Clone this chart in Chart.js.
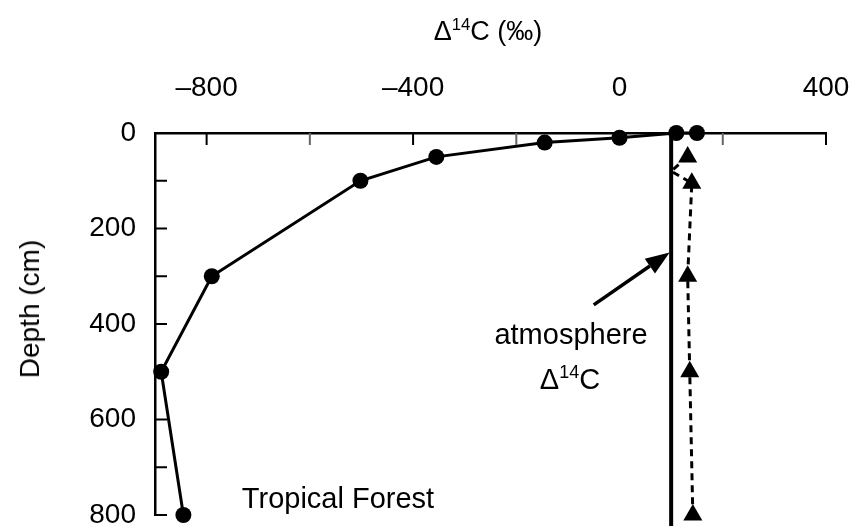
<!DOCTYPE html>
<html>
<head>
<meta charset="utf-8">
<script src="https://cdn.jsdelivr.net/npm/chart.js@4"></script>
<style>
  html, body { margin: 0; padding: 0; background: #fff; }
  #wrap { position: relative; width: 855px; height: 526px; font-family: "Liberation Sans", Arial, sans-serif; color: #000; }
  .lbl { position: absolute; white-space: nowrap; line-height: 1; transform: translate(-50%, -50%); }
  .lbl sup { font-size: 0.62em; vertical-align: 0; position: relative; top: -0.62em; }
</style>
</head>
<body>
<div id="wrap">
  <canvas id="c"></canvas>
  <div class="lbl" style="left:488px;top:31px;font-size:27px">&Delta;<sup>14</sup>C (&permil;)</div>
  <div class="lbl" style="left:30px;top:309px;font-size:28px;transform:translate(-50%,-50%) rotate(-90deg)">Depth (cm)</div>
  <div class="lbl" style="left:571px;top:334px;font-size:29px">atmosphere</div>
  <div class="lbl" style="left:570px;top:379px;font-size:29px">&Delta;<sup>14</sup>C</div>
  <div class="lbl" style="left:338px;top:498px;font-size:29px">Tropical Forest</div>
</div>
<script>
"use strict";
// --- dados ------------------------------------------------------------------
const soilDepth = [0, 0, 10, 20, 50, 100, 300, 500, 800];
const soilD14C = [150, 110, 0, -145, -355, -502, -790, -888, -845];
const rootDepth = [50, 80, 105, 300, 500, 800];
const rootD14C = [132, 100, 140, 132, 136, 142];
const atmDepth = [0, 830];
const atmD14C = [100, 100];
const arrowD14C = [-50, 97];
const arrowDepth = [360, 250];
const xTicks = [-800, -600, -400, -200, 0, 200, 400];
const xLabels = [-800, -400, 0, 400];
const yTicks = [0, 100, 200, 300, 400, 500, 600, 700, 800];
const yLabels = [0, 200, 400, 600, 800];

const pts = (xs, ys) => xs.map((x, i) => ({ x, y: ys[i] }));
const FONT = { family: "'Liberation Sans', Arial, sans-serif", size: 28 };

// marcas internas dos eixos + seta
const extras = {
  id: "extras",
  afterDatasetsDraw(chart) {
    const { ctx, chartArea: a, scales: { x, y } } = chart;
    ctx.save();
    ctx.lineWidth = 2;
    xTicks.forEach((v) => {
      const px = x.getPixelForValue(v);
      ctx.strokeStyle = v % 400 === 0 ? "#000" : "#666";
      ctx.beginPath(); ctx.moveTo(px, a.top); ctx.lineTo(px, a.top + 12); ctx.stroke();
    });
    ctx.strokeStyle = "#000";
    yTicks.forEach((v) => {
      const py = y.getPixelForValue(v);
      ctx.beginPath(); ctx.moveTo(a.left, py); ctx.lineTo(a.left + 12, py); ctx.stroke();
    });
    // seta "atmosphere"
    const x0 = x.getPixelForValue(arrowD14C[0]), y0 = y.getPixelForValue(arrowDepth[0]);
    const x1 = x.getPixelForValue(arrowD14C[1]), y1 = y.getPixelForValue(arrowDepth[1]);
    const ang = Math.atan2(y1 - y0, x1 - x0), L = 24, W = 9;
    const bx = x1 - L * Math.cos(ang), by = y1 - L * Math.sin(ang);
    ctx.lineWidth = 3.5;
    ctx.beginPath(); ctx.moveTo(x0, y0); ctx.lineTo(bx, by); ctx.stroke();
    ctx.fillStyle = "#000";
    ctx.beginPath();
    ctx.moveTo(x1, y1);
    ctx.lineTo(bx + W * Math.sin(ang), by - W * Math.cos(ang));
    ctx.lineTo(bx - W * Math.sin(ang), by + W * Math.cos(ang));
    ctx.closePath(); ctx.fill();
    ctx.restore();
  }
};

new Chart(document.getElementById("c"), {
  type: "scatter",
  data: {
    datasets: [
      {
        data: pts(soilD14C, soilDepth), showLine: true, clip: false,
        borderColor: "#000", backgroundColor: "#000", borderWidth: 3,
        pointStyle: "circle", pointRadius: 8, pointBorderWidth: 0
      },
      {
        data: pts(rootD14C, rootDepth), showLine: true, clip: false,
        borderColor: "#000", backgroundColor: "#000", borderWidth: 3, borderDash: [7, 5],
        pointStyle: "triangle", pointRadius: [11, 0, 11, 11, 11, 11], pointBorderWidth: 0
      },
      {
        data: pts(atmD14C, atmDepth), showLine: true, clip: false,
        borderColor: "#000", borderWidth: 4, pointRadius: 0
      }
    ]
  },
  options: {
    responsive: true, maintainAspectRatio: false, animation: false,
    layout: { autoPadding: false, padding: { left: 0, right: 29, top: 0, bottom: 11 } },
    plugins: { legend: { display: false }, tooltip: { enabled: false } },
    scales: {
      x: {
        type: "linear", position: "top", min: -900, max: 400,
        grid: { display: false },
        border: { display: true, color: "#000", width: 2.5 },
        afterBuildTicks: (s) => { s.ticks = xLabels.map((v) => ({ value: v })); },
        ticks: {
          padding: 20, color: "#000", font: FONT, maxRotation: 0, autoSkip: false,
          callback: (v) => (v < 0 ? "\u2013" + Math.abs(v) : String(v))
        },
        afterFit: (s) => { s.height = 133; s.paddingLeft = 0; s.paddingRight = 0; }
      },
      y: {
        type: "linear", position: "left", reverse: true, min: 0, max: 800,
        grid: { display: false },
        border: { display: true, color: "#000", width: 2.5 },
        afterBuildTicks: (s) => { s.ticks = yLabels.map((v) => ({ value: v })); },
        ticks: { padding: 11, color: "#000", font: FONT, autoSkip: false },
        afterFit: (s) => { s.width = 155; s.paddingTop = 0; s.paddingBottom = 0; }
      }
    }
  },
  plugins: [extras]
});
</script>
</body>
</html>
